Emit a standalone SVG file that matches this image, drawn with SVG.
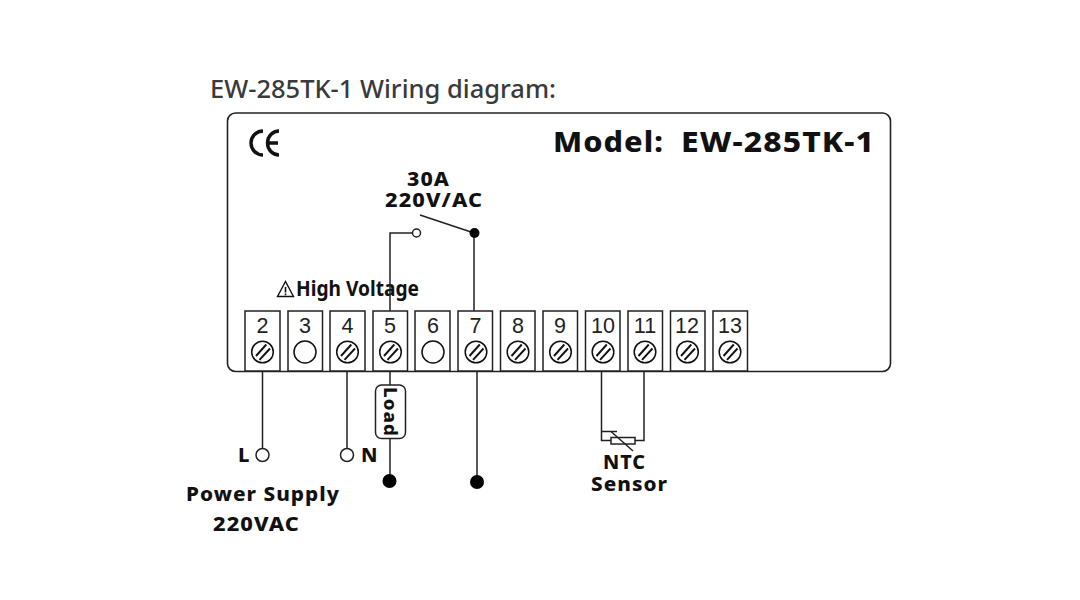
<svg xmlns="http://www.w3.org/2000/svg" width="1080" height="600" viewBox="0 0 1080 600">
<style>
.w{fill:none;stroke:#222;stroke-width:1.5}
.box{fill:#fff;stroke:#222;stroke-width:1.5}
.sc{fill:#fff;stroke:#111;stroke-width:1.5}
.sl{fill:none;stroke:#111;stroke-width:1.9}
.n{font:21.500px "Liberation Sans",Arial,sans-serif;fill:#222;text-anchor:middle}
.b{font-family:"Noto Sans","DejaVu Sans",sans-serif;font-weight:800;fill:#111;letter-spacing:1px}
.o{fill:#fff;stroke:#222;stroke-width:1.5}
.f{fill:#000}
</style>
<defs>
<g id="screw"><circle class="sc" r="10.800"/><path class="sl" d="M-6.500 4L3.800-7.500M-3 7.800L7.500-3.500"/></g>
</defs>
<rect width="1080" height="600" fill="#fff"/>
<text x="210" y="98" font-family="'Noto Sans',sans-serif" font-size="24.500" font-weight="500" fill="#3a3a3a" textLength="346" lengthAdjust="spacingAndGlyphs">EW-285TK-1 Wiring diagram:</text>
<g id="panel">
<rect x="227.500" y="113" width="663" height="258.500" rx="8" fill="#fff" stroke="#222" stroke-width="1.600"/>
<path d="M263 131a12 12 0 0 0 0 24M279 131a11.500 12 0 0 0 0 24M268 143h10" fill="none" stroke="#111" stroke-width="3.400"/>
<text class="b" x="553" y="152" font-size="29" textLength="111" lengthAdjust="spacingAndGlyphs">Model:</text>
<text class="b" x="681" y="152" font-size="29" textLength="194" lengthAdjust="spacingAndGlyphs">EW-285TK-1</text>
<text class="b" x="407" y="185.500" font-size="20" textLength="43" lengthAdjust="spacingAndGlyphs">30A</text>
<text class="b" x="385" y="206.500" font-size="20" textLength="98" lengthAdjust="spacingAndGlyphs">220V/AC</text>
<path d="M285.500 281.500l-8 15h16z" fill="none" stroke="#111" stroke-width="1.400"/><path d="M285.500 287v5.500M285.500 293.500v1.800" stroke="#111" stroke-width="1.600"/>
<text x="296" y="296" font-family="'Noto Sans',sans-serif" font-weight="700" font-size="21" fill="#111" textLength="123" lengthAdjust="spacingAndGlyphs">High Voltage</text>
</g>
<g id="connectors">
<path class="w" d="M390 311V233H412M474 233L420 215M474 233V311"/>
<path class="w" d="M262.500 371V449M347 371V449M390 371V385M390 439V481M477 371V481M601.500 371V440.500H611M644 371V440.500H635"/>
<path class="w" d="M602 431.500H617"/>
</g>
<g id="t2"><rect class="box" x="245" y="311" width="35" height="60"/><text class="n" x="262.500" y="333">2</text><use href="#screw" x="262.500" y="352"/></g>
<g id="t3"><rect class="box" x="288" y="311" width="34.500" height="60"/><text class="n" x="305" y="333">3</text><circle class="sc" cx="305" cy="352" r="11"/></g>
<g id="t4"><rect class="box" x="330" y="311" width="35" height="60"/><text class="n" x="347.500" y="333">4</text><use href="#screw" x="347.500" y="352"/></g>
<g id="t5"><rect class="box" x="373" y="311" width="34.500" height="60"/><text class="n" x="390" y="333">5</text><use href="#screw" x="390.500" y="352"/></g>
<g id="t6"><rect class="box" x="415" y="311" width="35" height="60"/><text class="n" x="433" y="333">6</text><circle class="sc" cx="433" cy="352" r="11"/></g>
<g id="t7"><rect class="box" x="458" y="311" width="34.500" height="60"/><text class="n" x="475.500" y="333">7</text><use href="#screw" x="476" y="352"/></g>
<g id="t8"><rect class="box" x="500.500" y="311" width="34.500" height="60"/><text class="n" x="518" y="333">8</text><use href="#screw" x="518" y="352"/></g>
<g id="t9"><rect class="box" x="543" y="311" width="34.500" height="60"/><text class="n" x="560" y="333">9</text><use href="#screw" x="560.500" y="352"/></g>
<g id="t10"><rect class="box" x="585.500" y="311" width="34.500" height="60"/><text class="n" x="603" y="333">10</text><use href="#screw" x="603" y="352"/></g>
<g id="t11"><rect class="box" x="628" y="311" width="34.500" height="60"/><text class="n" x="645" y="333">11</text><use href="#screw" x="645" y="352"/></g>
<g id="t12"><rect class="box" x="670.500" y="311" width="34.500" height="60"/><text class="n" x="687" y="333">12</text><use href="#screw" x="687.500" y="352"/></g>
<g id="t13"><rect class="box" x="713" y="311" width="34.500" height="60"/><text class="n" x="730" y="333">13</text><use href="#screw" x="730" y="352"/></g>
<g id="load"><rect x="375.500" y="385" width="30" height="53.500" rx="6" fill="#fff" stroke="#222" stroke-width="1.500"/><text class="b" transform="translate(384 387) rotate(90)" font-size="18" textLength="50" lengthAdjust="spacingAndGlyphs">Load</text></g>
<g id="ntc"><rect x="611" y="437.500" width="24" height="6.500" fill="#fff" stroke="#222" stroke-width="1.500"/><path class="w" d="M611 431.500L633 451"/><text class="b" x="603" y="469" font-size="20" textLength="43" lengthAdjust="spacingAndGlyphs">NTC</text><text class="b" x="591" y="491" font-size="20" textLength="77" lengthAdjust="spacingAndGlyphs">Sensor</text></g>
<g id="nodes">
<circle class="o" cx="416.500" cy="233" r="4"/><circle class="f" cx="474.500" cy="233" r="5"/>
<circle class="o" cx="262.500" cy="455" r="6.500"/><circle class="o" cx="347" cy="455" r="6.500"/>
<circle class="f" cx="389.500" cy="481" r="7"/><circle class="f" cx="477" cy="482" r="7"/>
</g>
<g id="power">
<text class="b" x="238" y="462" font-size="20">L</text><text class="b" x="361" y="462" font-size="20">N</text>
<text class="b" x="186" y="501" font-size="20" textLength="154" lengthAdjust="spacingAndGlyphs">Power Supply</text><text class="b" x="213" y="531" font-size="20" textLength="87" lengthAdjust="spacingAndGlyphs">220VAC</text>
</g>
</svg>
